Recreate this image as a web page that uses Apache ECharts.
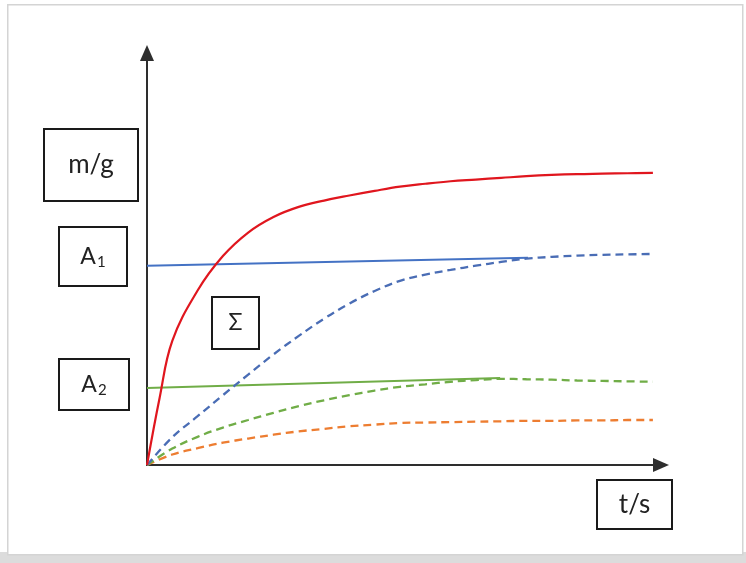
<!DOCTYPE html>
<html>
<head>
<meta charset="utf-8">
<script src="https://cdn.jsdelivr.net/npm/echarts@6/dist/echarts.min.js"></script>
<style>
html,body{margin:0;padding:0;background:#fff;}
#chart{width:746px;height:563px;}
</style>
</head>
<body>
<div id="chart"></div>
<script>
// ---- data (t in arbitrary units, m in arbitrary units) ----
const tGrid = [0, 5, 10, 15, 20, 25, 30, 35, 40, 45, 50, 55, 60, 65, 70, 75, 80, 85, 90, 95, 100];

const redT = [0, 2.5, 5, 10, 15, 20, 25, 30, 35, 40, 45, 50, 55, 60, 65, 70, 75, 80, 85, 90, 95, 100];
const redM = [0, 16, 29.5, 41.5, 49.7, 55.3, 59.0, 61.4, 62.9, 64.1, 65.2, 66.2, 66.9, 67.5, 67.9, 68.3, 68.7, 69.0, 69.2, 69.3, 69.4, 69.5];

const blueLineT = [0, 75.3];
const blueLineM = [47.4, 49.3];

const blueDashM = [0, 6.6, 11.6, 16.6, 21.5, 26.3, 30.7, 34.8, 38.4, 41.4, 43.8, 45.3, 46.4, 47.4, 48.3, 49.1, 49.5, 49.8, 50.0, 50.1, 50.2];

const greenLineT = [0, 69.8];
const greenLineM = [18.3, 20.7];

const greenDashM = [0, 3.9, 6.7, 8.9, 10.7, 12.4, 14.0, 15.4, 16.6, 17.7, 18.6, 19.2, 19.8, 20.2, 20.5, 20.4, 20.3, 20.1, 20.0, 19.9, 19.8];

const orangeDashM = [0, 2.5, 4.0, 5.3, 6.3, 7.2, 8.0, 8.6, 9.2, 9.6, 10.0, 10.1, 10.2, 10.3, 10.4, 10.5, 10.5, 10.6, 10.6, 10.7, 10.7];

const labels = { y: '{m|m/g}', x: '{m|t/s}', a1: '{a|A}{s|1}', a2: '{a|A}{s|2}', sum: '{g|Σ}' };

function pairs(t, m) { return t.map((v, i) => [v, m[i]]); }

const chart = echarts.init(document.getElementById('chart'), null, { renderer: 'canvas' });

const FONT = 'Lato, "Open Sans", sans-serif';
const RICH = {
  m: { fontSize: 26, fontFamily: FONT, fill: '#222' },
  a: { fontSize: 23, fontFamily: FONT, fill: '#222' },
  g: { fontSize: 23, fontFamily: FONT, fill: '#222' },
  s: { fontSize: 15, fontFamily: FONT, fill: '#222', padding: [12, 0, 0, 1] }
};
function boxLabel(x, y, w, h, txt) {
  return {
    type: 'group', left: x, top: y,
    children: [
      { type: 'rect', shape: { x: 0, y: 0, width: w, height: h },
        style: { fill: '#fff', stroke: '#1a1a1a', lineWidth: 2 } },
      { type: 'text', x: w / 2, y: h / 2,
        style: { text: txt, fill: '#222', fontSize: 22, fontFamily: FONT,
                 align: 'center', verticalAlign: 'middle', rich: RICH } }
    ]
  };
}

const option = {
  backgroundColor: '#fff',
  animation: false,
  grid: { left: 147, right: 85, top: 53, bottom: 98, containLabel: false, outerBoundsMode: 'none' },
  xAxis: {
    type: 'value', min: 0, max: 101.6,
    axisLine: { show: true, onZero: false, symbol: ['none', 'triangle'], symbolSize: [14, 16],
                lineStyle: { color: '#2e2e2e', width: 2 } },
    axisTick: { show: false }, axisLabel: { show: false }, splitLine: { show: false }
  },
  yAxis: {
    type: 'value', min: 0, max: 98,
    axisLine: { show: true, onZero: false, symbol: ['none', 'triangle'], symbolSize: [14, 16],
                lineStyle: { color: '#2e2e2e', width: 2 } },
    axisTick: { show: false }, axisLabel: { show: false }, splitLine: { show: false }
  },
  series: [
    { type: 'line', data: pairs(tGrid, orangeDashM), showSymbol: false, smooth: 0.4,
      lineStyle: { color: '#ED7D31', width: 2.3, type: [8, 5] } },
    { type: 'line', data: pairs(greenLineT, greenLineM), showSymbol: false,
      lineStyle: { color: '#70AD47', width: 2 } },
    { type: 'line', data: pairs(tGrid, greenDashM), showSymbol: false, smooth: 0.4,
      lineStyle: { color: '#70AD47', width: 2.3, type: [8, 5] } },
    { type: 'line', data: pairs(blueLineT, blueLineM), showSymbol: false,
      lineStyle: { color: '#4472C4', width: 2 } },
    { type: 'line', data: pairs(tGrid, blueDashM), showSymbol: false, smooth: 0.4,
      lineStyle: { color: '#4A6DB5', width: 2.3, type: [8, 5] } },
    { type: 'line', data: pairs(redT, redM), showSymbol: false, smooth: 0.4,
      lineStyle: { color: '#E0161E', width: 2.2 } }
  ],
  graphic: [
    { type: 'rect', left: 0, top: 552, z: -1, shape: { width: 746, height: 11 },
      style: { fill: '#dcdcdc' } },
    { type: 'rect', left: 7, top: 4, z: -1, shape: { width: 735, height: 550 },
      style: { fill: '#fff', stroke: '#d4d4d4', lineWidth: 1.5 } },
    boxLabel(43, 128, 94, 72, labels.y),
    boxLabel(58, 226, 68, 59, labels.a1),
    boxLabel(58, 358, 70, 51, labels.a2),
    boxLabel(211, 296, 47, 52, labels.sum),
    boxLabel(596, 479, 75, 49, labels.x)
  ]
};
chart.setOption(option);
</script>
</body>
</html>
